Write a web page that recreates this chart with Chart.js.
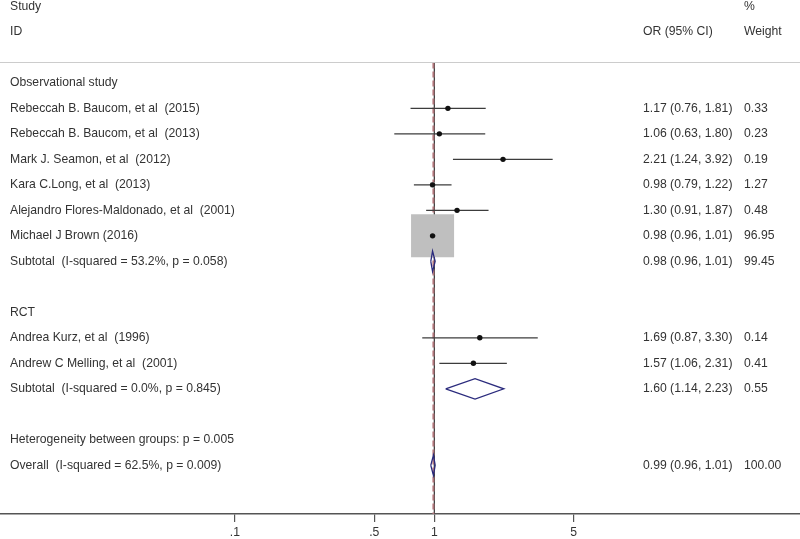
<!DOCTYPE html>
<html>
<head>
<meta charset="utf-8">
<script src="https://cdn.jsdelivr.net/npm/chart.js@4.4.1/dist/chart.umd.min.js"></script>
<style>
  html, body { margin: 0; padding: 0; background: #fff; }
  #wrap { width: 800px; height: 539px; position: relative; }
</style>
</head>
<body>
<div id="wrap"><canvas id="id_forest"></canvas></div>
<script>
(function() {
    "use strict";

    // individual studies
    var studyLabels = [
        "Rebeccah B. Baucom, et al  (2015)",
        "Rebeccah B. Baucom, et al  (2013)",
        "Mark J. Seamon, et al  (2012)",
        "Kara C.Long, et al  (2013)",
        "Alejandro Flores-Maldonado, et al  (2001)",
        "Michael J Brown (2016)",
        "Andrea Kurz, et al  (1996)",
        "Andrew C Melling, et al  (2001)"
    ];
    var studyOR = [1.17, 1.06, 2.21, 0.98, 1.30, 0.98, 1.69, 1.57];
    var studyLo = [0.76, 0.63, 1.24, 0.79, 0.91, 0.96, 0.87, 1.06];
    var studyHi = [1.81, 1.80, 3.92, 1.22, 1.87, 1.01, 3.30, 2.31];
    var studyWeight = [0.33, 0.23, 0.19, 1.27, 0.48, 96.95, 0.14, 0.41];
    var studyRow = [1, 2, 3, 4, 5, 6, 10, 11];

    // pooled estimates (diamonds)
    var pooledLabels = [
        "Subtotal  (I-squared = 53.2%, p = 0.058)",
        "Subtotal  (I-squared = 0.0%, p = 0.845)",
        "Overall  (I-squared = 62.5%, p = 0.009)"
    ];
    var pooledOR = [0.98, 1.60, 0.99];
    var pooledLo = [0.96, 1.14, 0.96];
    var pooledHi = [1.01, 2.23, 1.01];
    var pooledWeight = [99.45, 0.55, 100.00];
    var pooledRow = [7, 12, 15];

    // plain text rows
    var textLabels = ["Observational study", "RCT", "Heterogeneity between groups: p = 0.005"];
    var textRow = [0, 9, 14];

    var tickVals = [0.1, 0.5, 1, 5];
    var tickText = [".1", ".5", "1", "5"];

    var xMin = 0.00665, xMax = 68.1;
    var yTop = -3.25, yBottom = 16.91;
    var headRow = -0.8;
    var overallOR = pooledOR[2];

    var FONT = "12.2px 'Liberation Sans', Arial, sans-serif";
    var TXT = "#333333";

    var datasets = [];

    // reference lines
    datasets.push({
        type: "line", order: 10,
        data: [{x: 1, y: headRow}, {x: 1, y: yBottom}],
        borderColor: "#333333", borderWidth: 1.2, pointRadius: 0
    });
    datasets.push({
        type: "line", order: 9,
        data: [{x: overallOR, y: headRow}, {x: overallOR, y: yBottom}],
        borderColor: "#b0757a", borderWidth: 2, borderDash: [6, 3], pointRadius: 0
    });

    // weight squares
    datasets.push({
        type: "scatter", order: 6,
        data: studyOR.map(function(v, i) { return {x: v, y: studyRow[i]}; }),
        pointStyle: "rect",
        pointRadius: studyWeight.map(function(w) { return 3.09 * Math.sqrt(w); }),
        backgroundColor: "#bfbfbf", borderWidth: 0
    });

    // CI lines
    studyOR.forEach(function(v, i) {
        datasets.push({
            type: "line", order: 4,
            data: [{x: studyLo[i], y: studyRow[i]}, {x: studyHi[i], y: studyRow[i]}],
            borderColor: "#3c3c3c", borderWidth: 1.3, pointRadius: 0
        });
    });

    // point estimates
    datasets.push({
        type: "scatter", order: 1,
        data: studyOR.map(function(v, i) { return {x: v, y: studyRow[i]}; }),
        pointStyle: "circle", pointRadius: 2.7,
        backgroundColor: "#111111", borderWidth: 0
    });

    // diamonds
    pooledOR.forEach(function(v, i) {
        var r = pooledRow[i];
        datasets.push({
            type: "line", order: 2,
            data: [
                {x: pooledLo[i], y: r},
                {x: v, y: r - 0.4},
                {x: pooledHi[i], y: r},
                {x: v, y: r + 0.4},
                {x: pooledLo[i], y: r}
            ],
            borderColor: "#2b2b7d", borderWidth: 1.3, pointRadius: 0, tension: 0
        });
    });

    var textPlugin = {
        id: "forestText",
        afterDraw: function(chart) {
            var ctx = chart.ctx;
            var ys = chart.scales.y;
            var rowY = function(r) { return ys.getPixelForValue(r); };
            ctx.save();
            ctx.font = FONT;
            ctx.fillStyle = TXT;
            ctx.textBaseline = "middle";
            ctx.textAlign = "left";

            // header
            ctx.fillText("Study", 10, rowY(-3));
            ctx.fillText("ID", 10, rowY(-2));
            ctx.fillText("OR (95% CI)", 643, rowY(-2));
            ctx.fillText("%", 744, rowY(-3));
            ctx.fillText("Weight", 744, rowY(-2));

            textLabels.forEach(function(t, i) { ctx.fillText(t, 10, rowY(textRow[i])); });

            var ci = function(o, l, h) {
                return o.toFixed(2) + " (" + l.toFixed(2) + ", " + h.toFixed(2) + ")";
            };
            studyLabels.forEach(function(t, i) {
                var y = rowY(studyRow[i]);
                ctx.fillText(t, 10, y);
                ctx.fillText(ci(studyOR[i], studyLo[i], studyHi[i]), 643, y);
                ctx.fillText(studyWeight[i].toFixed(2), 744, y);
            });
            pooledLabels.forEach(function(t, i) {
                var y = rowY(pooledRow[i]);
                ctx.fillText(t, 10, y);
                ctx.fillText(ci(pooledOR[i], pooledLo[i], pooledHi[i]), 643, y);
                ctx.fillText(pooledWeight[i].toFixed(2), 744, y);
            });

            // header separator
            var hy = Math.round(rowY(headRow)) + 0.5;
            ctx.strokeStyle = "#cccccc";
            ctx.lineWidth = 1.2;
            ctx.beginPath();
            ctx.moveTo(0, hy);
            ctx.lineTo(chart.width, hy);
            ctx.stroke();
            ctx.restore();
        }
    };

    var ctx = document.getElementById("id_forest").getContext("2d");
    var forestChart = new Chart(ctx, {
        data: { datasets: datasets },
        options: {
            responsive: true,
            maintainAspectRatio: false,
            animation: false,
            layout: { padding: 0, autoPadding: false },
            plugins: { legend: { display: false }, tooltip: { enabled: false } },
            scales: {
                x: {
                    type: "logarithmic",
                    min: xMin, max: xMax,
                    afterBuildTicks: function(scale) {
                        scale.ticks = tickVals.map(function(v) { return {value: v}; });
                    },
                    afterFit: function(scale) { scale.height = 25; },
                    ticks: {
                        autoSkip: false, maxRotation: 0, padding: 3,
                        color: TXT,
                        font: { family: "'Liberation Sans', Arial, sans-serif", size: 12.2 },
                        callback: function(value) {
                            var k = tickVals.indexOf(value);
                            return k >= 0 ? tickText[k] : "";
                        }
                    },
                    grid: { drawOnChartArea: false, drawTicks: true, tickLength: 8, color: "#555555", lineWidth: 1.2 },
                    border: { display: true, color: "#555555", width: 1.5 }
                },
                y: {
                    type: "linear", reverse: true, display: false,
                    min: yTop, max: yBottom
                }
            }
        },
        plugins: [textPlugin]
    });
})();
</script>
</body>
</html>
